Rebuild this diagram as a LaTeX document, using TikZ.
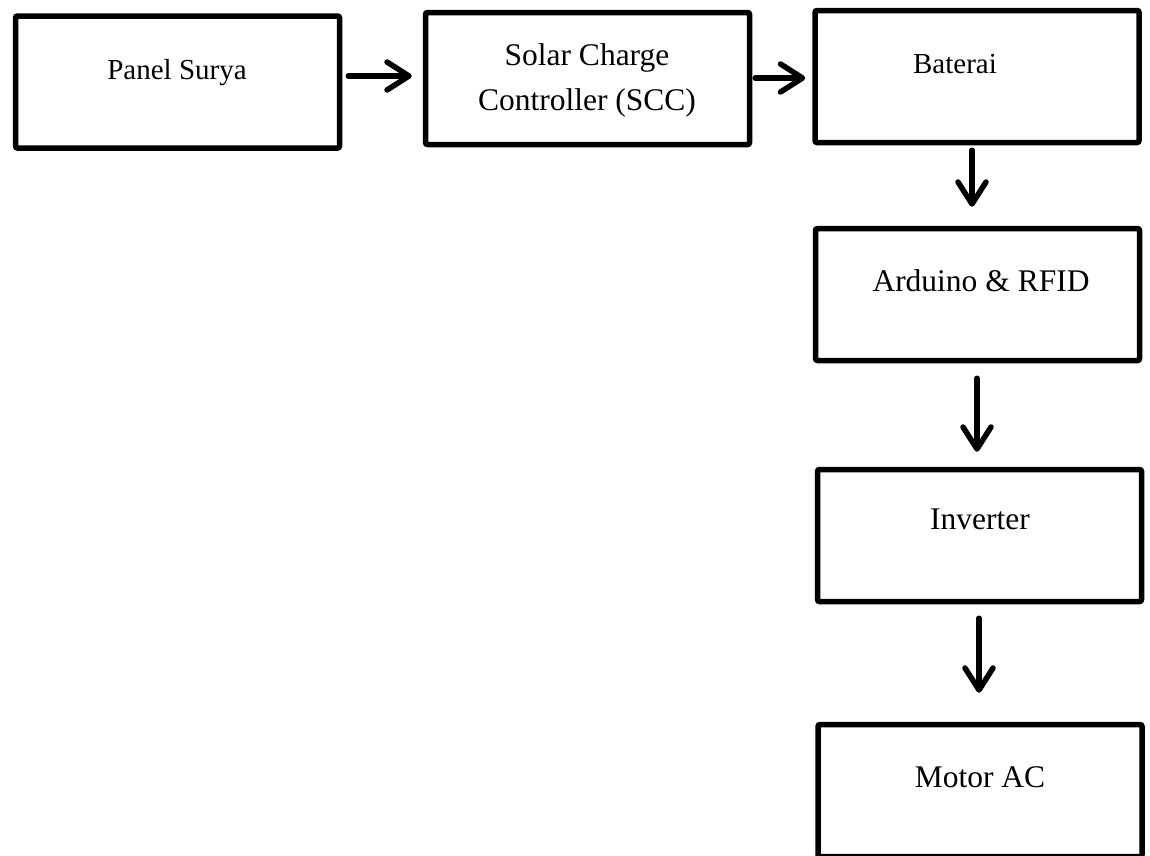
\documentclass[tikz,border=0pt]{standalone}
\usepackage{fontspec}
\setmainfont{Liberation Serif}
\usetikzlibrary{arrows.meta}
\begin{document}
\begin{tikzpicture}[x=1pt,y=-1pt,
  box/.style={draw=black, line width=5.5pt, rounded corners=2pt, inner sep=0pt,
    minimum width=324pt, minimum height=132pt},
  lbl/.style={anchor=base, inner sep=0pt, font=\fontsize{31.5}{36}\selectfont},
  lblsm/.style={anchor=base, inner sep=0pt, font=\fontsize{29}{34}\selectfont},
  arr/.style={line width=5.5pt, line cap=round,
    -{Straight Barb[length=22pt, width=28pt, line width=5.5pt, round]}}]
\useasboundingbox (0,0) rectangle (1150,855);
\clip (0,0) rectangle (1150,855);
% boxes
\node[box] (ps)  at (177.5,82)  {};
\node[box] (scc) at (587.5,78.5) {};
\node[box] (bat) at (977,76.5)  {};
\node[box] (ard) at (977.5,294.5) {};
\node[box] (inv) at (979.5,535.5) {};
\node[box] (mot) at (980,790.5) {};
% texts
\node[lblsm] (psT)  at (177,79)  {Panel Surya};
\node[lbl]   (sccT1) at (587,65) {Solar Charge};
\node[lbl]   (sccT2) at (587,110) {Controller (SCC)};
\node[lblsm] (batT) at (955,73)  {Baterai};
\node[lbl]   (ardT) at (981,291) {Arduino \& RFID};
\node[lbl]   (invT) at (980,529) {Inverter};
\node[lbl]   (motT) at (980,787) {Motor AC};
% connectors
\draw[arr] ([xshift=6pt]ps.east |- 0,76) -- ([xshift=-11pt]scc.west |- 0,76);
\draw[arr] ([xshift=3pt]scc.east |- 0,78) -- ([xshift=-7pt]bat.west |- 0,78);
\draw[arr] ([yshift=-5pt]bat.south -| 972,0) -- ([yshift=19pt]ard.north -| 972,0);
\draw[arr] ([yshift=-15pt]ard.south -| 977,0) -- ([yshift=15pt]inv.north -| 977,0);
\draw[arr] ([yshift=-14pt]inv.south -| 979,0) -- ([yshift=29pt]mot.north -| 979,0);
\end{tikzpicture}
\end{document}
